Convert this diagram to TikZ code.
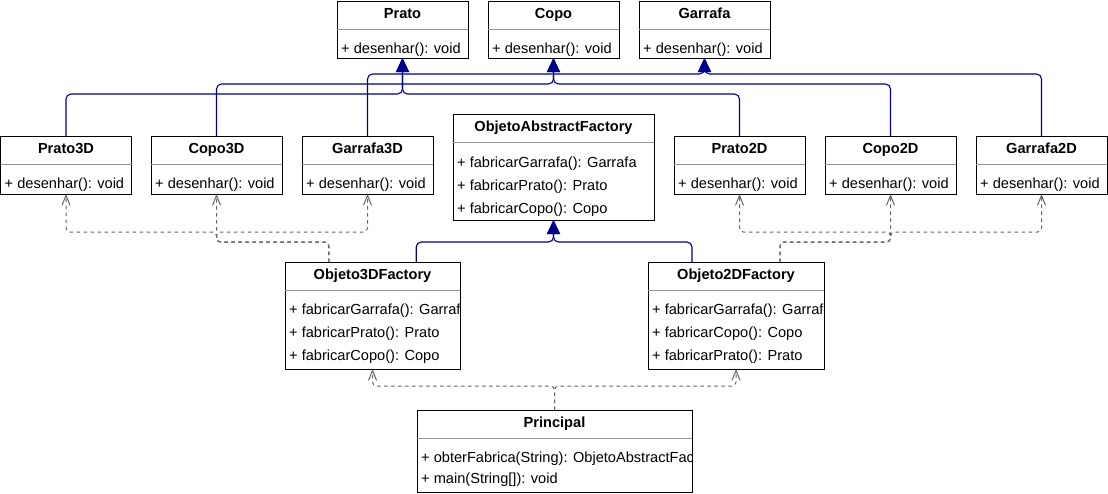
\documentclass[tikz,border=0pt]{standalone}
\usepackage{fontspec}
\setmainfont{Liberation Sans}
\usetikzlibrary{arrows.meta,calc}
\definecolor{navyline}{RGB}{0,0,140}
\definecolor{depgray}{RGB}{102,102,102}
\definecolor{sepgray}{RGB}{150,150,150}
\tikzset{
  classbox/.style={draw=black, line width=1pt, fill=white, anchor=north west, inner sep=0pt, outer sep=0pt},
  classtitle/.style={anchor=base, inner sep=0pt, font=\fontsize{14.6}{17}\selectfont\bfseries},
  classop/.style={anchor=base west, inner sep=0pt, font=\fontsize{14.6}{17}\selectfont},
  sepline/.style={draw=sepgray, line width=1pt},
  gen/.style={draw=navyline, line width=1.1pt, rounded corners=5pt, -{Triangle[length=14pt,width=13pt,fill=navyline]}},
  dep/.style={draw=depgray, line width=1pt, dash pattern=on 3.5pt off 3.5pt, rounded corners=4pt, -{Straight Barb[length=10pt,width=8pt]}}
}
\newcommand\umlbox[6]{%
  \node[classbox, minimum width=#4pt, minimum height=#5pt] (#1) at (#2,-#3) {};
  \node[classtitle] (#1-t) at ($(#1.north)+(0,-17)$) {#6};
  \draw[sepline] ($(#1.north west)+(0,-28)$) -- ($(#1.north east)+(0,-28)$);
}
\newcommand\umlop[4]{%
  \begin{scope}
    \clip (#1.north west) rectangle (#1.south east);
    \node[classop] (#2) at ($(#1.north west)+(4,-#3)$) {#4};
  \end{scope}
}
\begin{document}
\begin{tikzpicture}[x=1pt,y=1pt]
\useasboundingbox (0,0) rectangle (1108,-493);
% top row
\umlbox{prato}{337}{1}{131}{57}{Prato}
\umlop{prato}{prato-m1}{52}{+ desenhar(): void}
\umlbox{copo}{488}{1}{131}{57}{Copo}
\umlop{copo}{copo-m1}{52}{+ desenhar(): void}
\umlbox{garrafa}{639}{1}{131}{57}{Garrafa}
\umlop{garrafa}{garrafa-m1}{52}{+ desenhar(): void}
% second row
\umlbox{prato3d}{0.5}{136}{131}{58}{Prato3D}
\umlop{prato3d}{prato3d-m1}{52}{+ desenhar(): void}
\umlbox{copo3d}{151}{136}{131}{58}{Copo3D}
\umlop{copo3d}{copo3d-m1}{52}{+ desenhar(): void}
\umlbox{garrafa3d}{302}{136}{131}{58}{Garrafa3D}
\umlop{garrafa3d}{garrafa3d-m1}{52}{+ desenhar(): void}
\umlbox{prato2d}{674}{136}{131}{58}{Prato2D}
\umlop{prato2d}{prato2d-m1}{52}{+ desenhar(): void}
\umlbox{copo2d}{825}{136}{131}{58}{Copo2D}
\umlop{copo2d}{copo2d-m1}{52}{+ desenhar(): void}
\umlbox{garrafa2d}{976}{136}{131}{58}{Garrafa2D}
\umlop{garrafa2d}{garrafa2d-m1}{52}{+ desenhar(): void}
% abstract factory
\umlbox{abs}{453}{114}{201}{106}{ObjetoAbstractFactory}
\umlop{abs}{abs-m1}{53}{+ fabricarGarrafa(): Garrafa}
\umlop{abs}{abs-m2}{76}{+ fabricarPrato(): Prato}
\umlop{abs}{abs-m3}{99}{+ fabricarCopo(): Copo}
% concrete factories
\umlbox{f3}{285}{262}{175}{107}{Objeto3DFactory}
\umlop{f3}{f3-m1}{52}{+ fabricarGarrafa(): Garrafa}
\umlop{f3}{f3-m2}{75}{+ fabricarPrato(): Prato}
\umlop{f3}{f3-m3}{98}{+ fabricarCopo(): Copo}
\umlbox{f2}{648}{262}{176}{107}{Objeto2DFactory}
\umlop{f2}{f2-m1}{52}{+ fabricarGarrafa(): Garrafa}
\umlop{f2}{f2-m2}{75}{+ fabricarCopo(): Copo}
\umlop{f2}{f2-m3}{98}{+ fabricarPrato(): Prato}
% principal
\umlbox{princ}{417}{410}{275}{82}{Principal}
\umlop{princ}{princ-m1}{52}{+ obterFabrica(String): ObjetoAbstractFactory}
\umlop{princ}{princ-m2}{73}{+ main(String[]): void}
% bus levels
\coordinate (yG) at (0,-74);
\coordinate (yC) at (0,-84);
\coordinate (yP) at (0,-94);
\coordinate (yA) at (0,-242);
\coordinate (yD1) at (0,-232);
\coordinate (yD2) at (0,-242);
\coordinate (yM) at (0,-386);
% generalizations
\draw[gen] (prato3d.north) -- (prato3d.north |- yP) -- (prato.south |- yP) -- (prato.south);
\draw[gen] (prato2d.north) -- (prato2d.north |- yP) -- (prato.south |- yP) -- (prato.south);
\draw[gen] (copo3d.north) -- (copo3d.north |- yC) -- (copo.south |- yC) -- (copo.south);
\draw[gen] (copo2d.north) -- (copo2d.north |- yC) -- (copo.south |- yC) -- (copo.south);
\draw[gen] (garrafa3d.north) -- (garrafa3d.north |- yG) -- (garrafa.south |- yG) -- (garrafa.south);
\draw[gen] (garrafa2d.north) -- (garrafa2d.north |- yG) -- (garrafa.south |- yG) -- (garrafa.south);
\coordinate (f3g) at ($(f3.north west)!0.75!(f3.north east)$);
\coordinate (f2g) at ($(f2.north west)!0.25!(f2.north east)$);
\draw[gen] (f3g) -- (f3g |- yA) -- (abs.south |- yA) -- (abs.south);
\draw[gen] (f2g) -- (f2g |- yA) -- (abs.south |- yA) -- (abs.south);
% dependencies 3D
\coordinate (f3d) at ($(f3.north west)!0.25!(f3.north east)$);
\draw[dep] (f3d) -- (f3d |- yD2) -- (copo3d.south |- yD2) -- (copo3d.south |- yD1) -- (prato3d.south |- yD1) -- (prato3d.south);
\draw[dep] (f3d) -- (f3d |- yD2) -- (copo3d.south |- yD2) -- (copo3d.south);
\draw[dep] (f3d) -- (f3d |- yD2) -- (copo3d.south |- yD2) -- (copo3d.south |- yD1) -- (garrafa3d.south |- yD1) -- (garrafa3d.south);
% dependencies 2D
\coordinate (f2d) at ($(f2.north west)!0.75!(f2.north east)$);
\draw[dep] (f2d) -- (f2d |- yD2) -- (copo2d.south |- yD2) -- (copo2d.south |- yD1) -- (prato2d.south |- yD1) -- (prato2d.south);
\draw[dep] (f2d) -- (f2d |- yD2) -- (copo2d.south |- yD2) -- (copo2d.south);
\draw[dep] (f2d) -- (f2d |- yD2) -- (copo2d.south |- yD2) -- (copo2d.south |- yD1) -- (garrafa2d.south |- yD1) -- (garrafa2d.south);
% principal dependencies
\draw[dep] (princ.north) -- (princ.north |- yM) -- (f3.south |- yM) -- (f3.south);
\draw[dep] (princ.north) -- (princ.north |- yM) -- (f2.south |- yM) -- (f2.south);
\end{tikzpicture}
\end{document}
